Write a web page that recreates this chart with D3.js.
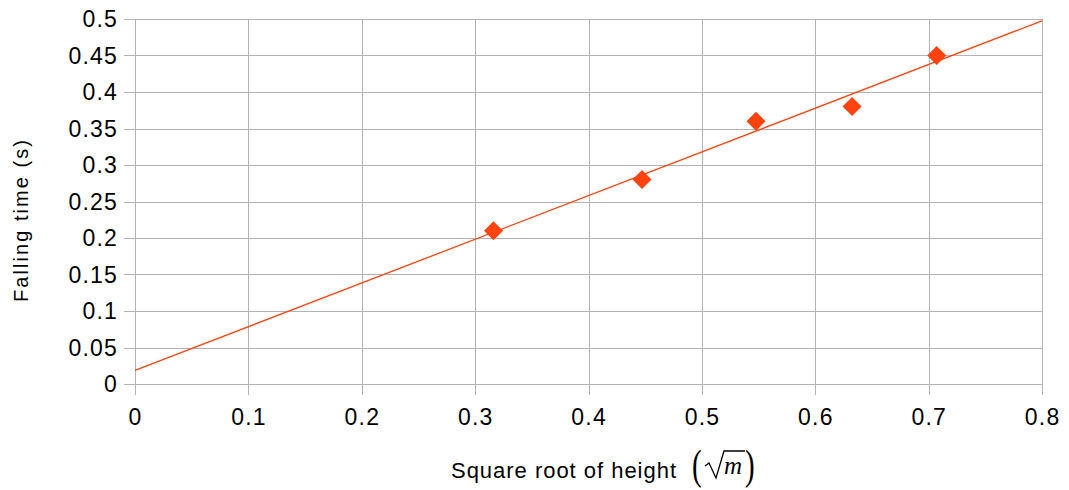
<!DOCTYPE html>
<html>
<head>
<meta charset="utf-8">
<script src="https://cdn.jsdelivr.net/npm/d3@7"></script>
<style>
  body { margin: 0; background: #fff; }
  svg { display: block; font-family: "Liberation Sans", Arial, sans-serif; }
</style>
</head>
<body>
<div id="chart"></div>
<script>
(function(){

const width = 1069;
const height = 490;
const margin = {top: 19, right: 27, bottom: 106, left: 135};

// data: heights 0.1 .. 0.5 m, x = sqrt(height)
const heights = [0.1, 0.2, 0.3, 0.4, 0.5];
const times = [0.21, 0.28, 0.36, 0.38, 0.45];
const xTicks = [0, 0.1, 0.2, 0.3, 0.4, 0.5, 0.6, 0.7, 0.8];
const yTicks = [0, 0.05, 0.1, 0.15, 0.2, 0.25, 0.3, 0.35, 0.4, 0.45, 0.5];

const data = heights.map((h, i) => ({x: Math.sqrt(h), y: times[i]}));

const svg = d3.select("#chart")
  .append("svg")
  .attr("width", width)
  .attr("height", height);

const x = d3.scaleLinear()
  .domain([0, 0.8])
  .range([margin.left, width - margin.right]);

const y = d3.scaleLinear()
  .domain([0, 0.5])
  .range([height - margin.bottom, margin.top]);

const gridColor = "#b3b3b3";
const red = "#ff420e";
const serif = "'Liberation Serif', 'DejaVu Serif', serif";

// grid
svg.append("g")
  .selectAll("line")
  .data(yTicks)
  .enter()
  .append("line")
  .attr("x1", x(0) - 11)
  .attr("x2", x(0.8))
  .attr("y1", d => Math.round(y(d)) + 0.5)
  .attr("y2", d => Math.round(y(d)) + 0.5)
  .attr("stroke", gridColor)
  .attr("stroke-width", 1);

svg.append("g")
  .selectAll("line")
  .data(xTicks)
  .enter()
  .append("line")
  .attr("x1", d => Math.round(x(d)) + 0.5)
  .attr("x2", d => Math.round(x(d)) + 0.5)
  .attr("y1", y(0.5))
  .attr("y2", y(0) + 11)
  .attr("stroke", gridColor)
  .attr("stroke-width", 1);

// tick labels
svg.append("g")
  .selectAll("text")
  .data(yTicks)
  .enter()
  .append("text")
  .attr("x", x(0) - 17)
  .attr("y", d => y(d) + 8)
  .attr("text-anchor", "end")
  .style("font-size", "23px")
  .style("letter-spacing", "1.2px")
  .attr("fill", "#000")
  .text(d => d3.format("")(d));

svg.append("g")
  .selectAll("text")
  .data(xTicks)
  .enter()
  .append("text")
  .attr("x", d => x(d) + 0.6)
  .attr("y", y(0) + 41)
  .attr("text-anchor", "middle")
  .style("font-size", "23px")
  .style("letter-spacing", "1.2px")
  .attr("fill", "#000")
  .text(d => d3.format("")(d));

// axis titles
svg.append("text")
  .attr("transform", "translate(28,221) rotate(-90)")
  .attr("text-anchor", "middle")
  .attr("textLength", 162)
  .attr("lengthAdjust", "spacing")
  .style("font-size", "20px")
  .text("Falling time (s)");

svg.append("text")
  .attr("x", 451)
  .attr("y", 478)
  .attr("textLength", 225)
  .attr("lengthAdjust", "spacing")
  .style("font-size", "22px")
  .text("Square root of height");

// unit: (sqrt m), thin tall parentheses
const math = svg.append("g");
math.append("text")
  .attr("transform", "translate(692,479) scale(1,1.45)")
  .style("font-family", serif)
  .style("font-size", "29px")
  .text("(");
math.append("text")
  .attr("transform", "translate(745,479) scale(1,1.45)")
  .style("font-family", serif)
  .style("font-size", "29px")
  .text(")");
math.append("path")
  .attr("d", "M705,466 L709,463 L716,478 L724,451 L745,451")
  .attr("fill", "none")
  .attr("stroke", "#000")
  .attr("stroke-width", 1.3);
math.append("text")
  .attr("x", 724).attr("y", 474)
  .style("font-family", serif)
  .style("font-style", "italic")
  .style("font-size", "25px")
  .text("m");

// linear trend line (least squares)
const mx = d3.mean(data, d => d.x);
const my = d3.mean(data, d => d.y);
const slope = d3.sum(data, d => (d.x - mx) * (d.y - my)) / d3.sum(data, d => (d.x - mx) ** 2);
const intercept = my - slope * mx;

svg.append("line")
  .attr("x1", x(0))
  .attr("y1", y(intercept))
  .attr("x2", x(0.8))
  .attr("y2", y(intercept + slope * 0.8))
  .attr("stroke", red)
  .attr("stroke-width", 1.3);

// points
svg.append("g")
  .selectAll("path")
  .data(data)
  .enter()
  .append("path")
  .attr("transform", d => `translate(${x(d.x)},${y(d.y)})`)
  .attr("d", "M0,-9.5 L9.5,0 L0,9.5 L-9.5,0 Z")
  .attr("fill", red);

})();
</script>
</body>
</html>
